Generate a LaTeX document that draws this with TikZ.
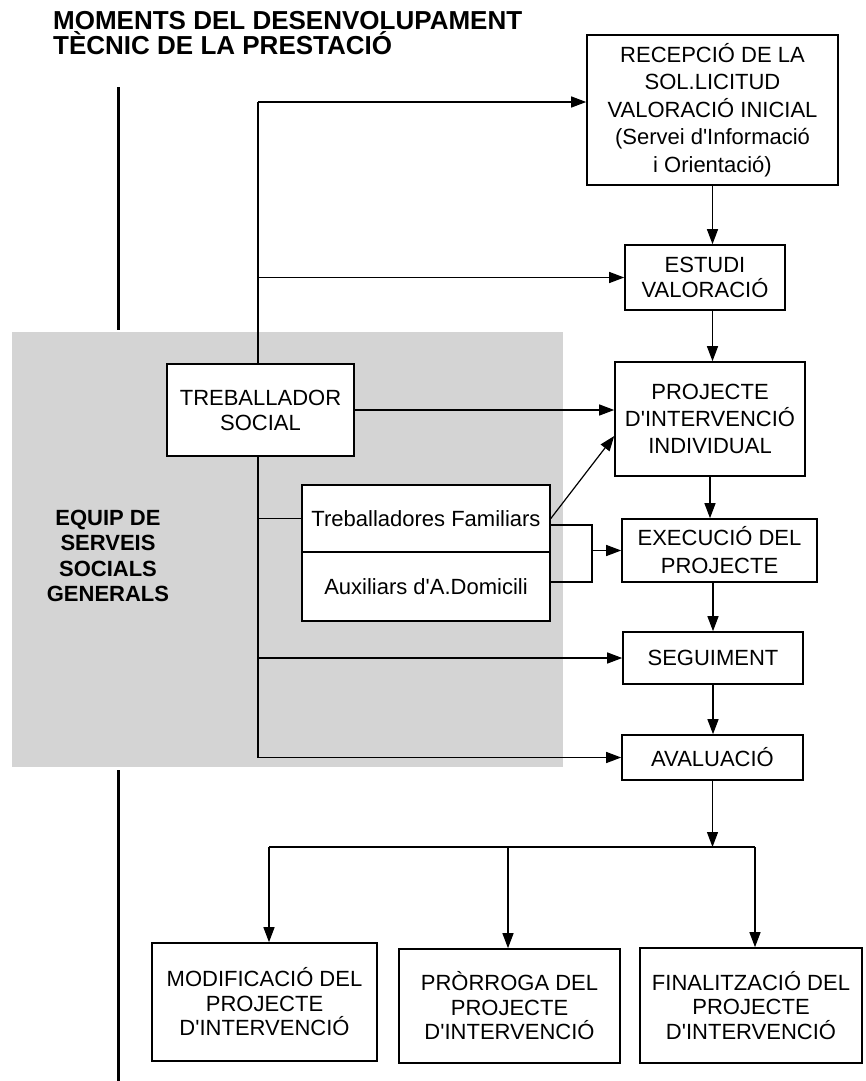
\documentclass[tikz,border=0pt]{standalone}
\usepackage{fontspec}
\setmainfont{Liberation Sans}
\usetikzlibrary{arrows.meta,backgrounds,calc}
\newcommand\ap{\textquotesingle}
\tikzset{
  box/.style={draw, line width=1.6pt, fill=white, align=center, inner sep=0pt, anchor=center, font=\fontsize{22}{27}\selectfont},
  arr/.style={line width=1.2pt, -{Triangle[length=15pt,width=11pt]}},
  ln/.style={line width=1.2pt},
  thick bar/.style={line width=3pt},
  shade/.style={fill=black!17},
  title/.style={anchor=base west, inner sep=0pt, font=\bfseries\fontsize{26}{26}\selectfont},
}
\begin{document}
\begin{tikzpicture}[x=1pt,y=-1pt]
\useasboundingbox (0,0) rectangle (865,1081);

% title
\node[title] (t1) at (53,29.5) {MOMENTS DEL DESENVOLUPAMENT};
\node[title] (t2) at (53,54.5) {TÈCNIC DE LA PRESTACIÓ};

% boxes
\node[box, minimum width=251pt, minimum height=150pt, font=\fontsize{22}{27.5}\selectfont] (rec) at (712.5,110)
  {RECEPCIÓ DE LA\\SOL.LICITUD\\VALORACIÓ INICIAL\\(Servei d\ap Informació\\i Orientació)};
\node[box, minimum width=160pt, minimum height=65pt, font=\fontsize{22}{25}\selectfont] (est) at (705,277.5) {ESTUDI\\VALORACIÓ};
\node[box, minimum width=190pt, minimum height=114pt] (proj) at (710,419) {PROJECTE\\D\ap INTERVENCIÓ\\INDIVIDUAL};
\node[box, minimum width=187pt, minimum height=92pt, font=\fontsize{22}{25}\selectfont] (ts) at (260.5,410) {TREBALLADOR\\SOCIAL};
\node[box, minimum width=248pt, minimum height=67pt] (treb) at (426,518.5) {Treballadores Familiars};
\node[box, minimum width=248pt, minimum height=69pt] (aux) at (426,586.5) {Auxiliars d\ap A.Domicili};
\node[box, minimum width=195pt, minimum height=63pt, font=\fontsize{22}{28}\selectfont] (exe) at (719.5,550.5) {EXECUCIÓ DEL\\PROJECTE};
\node[box, minimum width=180pt, minimum height=52pt] (seg) at (713,658) {SEGUIMENT};
\node[box, minimum width=181pt, minimum height=45pt] (ava) at (712.5,757.5) {AVALUACIÓ};
\node[box, minimum width=225pt, minimum height=118pt, font=\fontsize{22}{24.5}\selectfont] (mod) at (264.5,1002) {MODIFICACIÓ DEL\\PROJECTE\\D\ap INTERVENCIÓ};
\node[box, minimum width=221pt, minimum height=114pt, font=\fontsize{22}{24.5}\selectfont] (pro) at (509.5,1006) {PRÒRROGA DEL\\PROJECTE\\D\ap INTERVENCIÓ};
\node[box, minimum width=222pt, minimum height=115pt, font=\fontsize{22}{24.5}\selectfont] (fin) at (751,1005.5) {FINALITZACIÓ DEL\\PROJECTE\\D\ap INTERVENCIÓ};

% side label
\node[inner sep=0pt, align=center, font=\bfseries\fontsize{22}{25.5}\selectfont] (equip) at (108,556) {EQUIP DE\\SERVEIS\\SOCIALS\\GENERALS};

% background shading and bar
\begin{scope}[on background layer]
  \fill[shade] (12,332) rectangle (563,767);
  \draw[thick bar] (118,87) -- (118,330);
  \draw[thick bar] (118,770) -- (118,1081);
\end{scope}

% trunk from TREBALLADOR SOCIAL
\coordinate (v1) at (258,102);
\draw[ln] (v1) -- (v1 |- ts.north);
\draw[ln] (v1 |- ts.south) -- (v1 |- ava.west);
\draw[arr] (v1) -- (rec.west |- v1);
\draw[arr] (v1 |- est.west) -- (est.west);
\draw[arr] (ts.east) -- (ts.east -| proj.west);
\draw[ln] (v1 |- treb.west) -- (treb.west);
\draw[arr] (v1 |- seg.west) -- (seg.west);
\draw[arr] (v1 |- ava.west) -- (ava.west);

% main chain
\draw[arr] (rec.south) -- (rec.south |- est.north);
\draw[arr] (est.south -| rec.south) -- (proj.north -| rec.south);
\draw[arr] (proj.south) -- (proj.south |- exe.north);
\draw[arr] (exe.south -| seg.north) -- (seg.north);
\draw[arr] (seg.south) -- (seg.south |- ava.north);

% family workers
\coordinate (dtip) at ($(proj.west)+(0,17)$);
\draw[arr] (treb.east) -- (dtip);
\coordinate (bt) at (550,525);
\coordinate (bb) at (550,582);
\coordinate (bm) at (592,550.5);
\draw[ln] (bt) -- (bt -| bm) -- (bb -| bm) -- (bb);
\draw[arr] (bm) -- (exe.west);

% branching
\coordinate (bj) at (712.5,847);
\coordinate (bl) at (269,847);
\coordinate (bc) at (508,847);
\coordinate (br) at (755,847);
\draw[arr] (ava.south) -- (bj);
\draw[ln] (bl) -- (br);
\draw[arr] (bl) -- (bl |- mod.north);
\draw[arr] (bc) -- (bc |- pro.north);
\draw[arr] (br) -- (br |- fin.north);
\end{tikzpicture}
\end{document}
